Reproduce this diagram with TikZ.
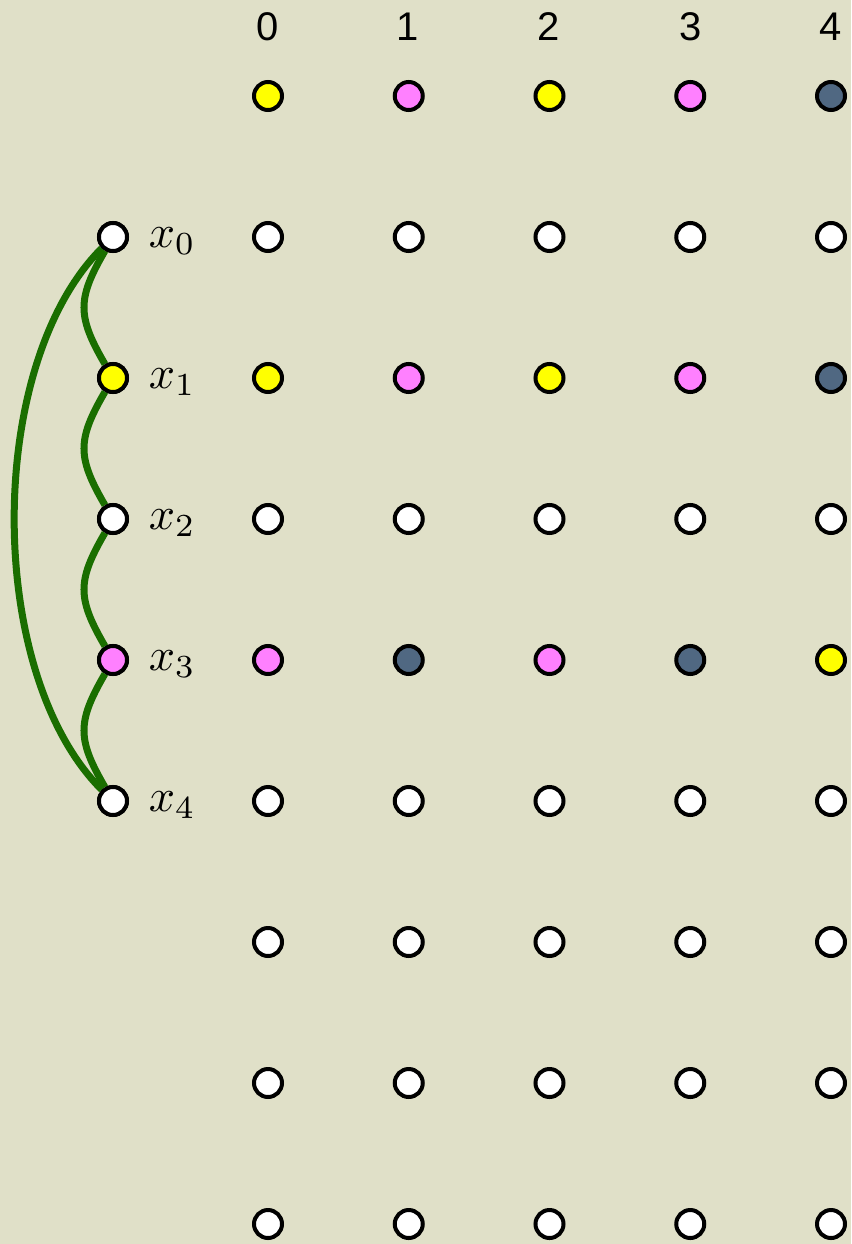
\documentclass[tikz,border=0pt]{standalone}
\usepackage{fontspec}
\newfontfamily\digitfont{Liberation Sans}
\definecolor{bg}{RGB}{224,224,200}
\definecolor{cY}{RGB}{255,255,0}
\definecolor{cP}{RGB}{255,128,255}
\definecolor{cB}{RGB}{80,104,130}
\definecolor{cW}{RGB}{255,255,255}
\definecolor{edgegreen}{RGB}{26,110,0}
\begin{document}
\begin{tikzpicture}[x=1pt,y=-1pt,
  dot/.style={circle,draw=black,line width=4pt,minimum size=28pt,inner sep=0pt},
  collabel/.style={font=\digitfont\fontsize{40}{41}\selectfont,inner sep=0pt},
  varlabel/.style={font=\normalsize,scale=4.6,inner sep=0pt,anchor=west},
  edge/.style={draw=edgegreen,line width=7pt}]
\fill[bg] (0,0) rectangle (851,1244);
\useasboundingbox (0,0) rectangle (851,1244);
% column labels
\foreach \c/\xx in {0/268,1/408,2/549,3/691,4/831}{
  \node[collabel] (h\c) at (\xx,27) {\c};
}
% grid
\foreach \r/\yy/\cols in {0/96/{cY,cP,cY,cP,cB},1/237/{cW,cW,cW,cW,cW},2/378/{cY,cP,cY,cP,cB},3/519/{cW,cW,cW,cW,cW},4/660/{cP,cB,cP,cB,cY},5/801/{cW,cW,cW,cW,cW},6/942/{cW,cW,cW,cW,cW},7/1083/{cW,cW,cW,cW,cW},8/1224/{cW,cW,cW,cW,cW}}{
  \foreach \col [count=\c from 0] in \cols {
    \pgfmathsetmacro{\xx}{268+\c*140.75}
    \node[dot,fill=\col] (g\r-\c) at (\xx,\yy) {};
  }
}
% left nodes
\foreach \i/\yy/\col in {0/237/cW,1/378/cY,2/519/cW,3/660/cP,4/801/cW}{
  \node[dot,fill=\col] (v\i) at (113,\yy) {};
  \node[varlabel] (l\i) at (148,\yy+4) {$x_{\i}$};
}
\draw[edge] (v0) .. controls +(-36,62) and +(-36,-62) .. (v1);
\draw[edge] (v1) .. controls +(-36,62) and +(-36,-62) .. (v2);
\draw[edge] (v2) .. controls +(-36,62) and +(-36,-62) .. (v3);
\draw[edge] (v3) .. controls +(-36,62) and +(-36,-62) .. (v4);
\draw[edge] (v0) .. controls +(-128,128) and +(-128,-128) .. (v4);
% redraw left nodes on top of the edges
\foreach \i/\yy/\col in {0/237/cW,1/378/cY,2/519/cW,3/660/cP,4/801/cW}{
  \node[dot,fill=\col] (w\i) at (113,\yy) {};
}
\end{tikzpicture}
\end{document}
